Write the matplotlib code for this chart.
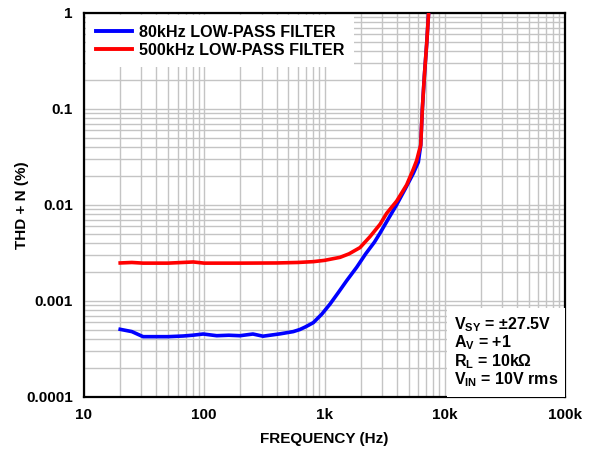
import matplotlib
matplotlib.use("Agg")
import matplotlib.pyplot as plt
from matplotlib.patches import Rectangle
from matplotlib.ticker import LogLocator, NullFormatter

plt.rcParams['font.family'] = ['Liberation Sans', 'DejaVu Sans']
plt.rcParams['font.weight'] = 'bold'
plt.rcParams['mathtext.fontset'] = 'custom'
plt.rcParams['mathtext.rm'] = 'Liberation Sans:bold'
plt.rcParams['mathtext.it'] = 'Liberation Sans:bold'
plt.rcParams['mathtext.bf'] = 'Liberation Sans:bold'

# Data
freq_80k = [20, 25, 31, 40, 50, 67, 80, 98, 127, 160, 198, 254, 308, 428, 550, 625, 700,
            807, 950, 1112, 1300, 1530, 1854, 2200, 2600, 2897, 3400, 3986, 4700, 5470,
            6030, 6310, 6505, 6760, 7080, 7350]
thd_80k = [0.000507, 0.00048, 0.000425, 0.000425, 0.000425, 0.000432, 0.00044, 0.000453,
           0.000435, 0.00044, 0.000435, 0.000453, 0.00043, 0.000455, 0.00048, 0.000505,
           0.00054, 0.000595, 0.00073, 0.00093, 0.00122, 0.00163, 0.00225, 0.0031, 0.0041,
           0.0051, 0.0072, 0.0101, 0.0148, 0.0213, 0.028, 0.0419, 0.0977, 0.217, 0.483, 1.03]

freq_500k = [20, 25, 31, 50, 81, 100, 200, 400, 600, 807, 1000, 1112, 1346, 1600, 1973,
             2390, 2897, 3290, 3986, 4820, 5470, 5835, 6100, 6310, 6505, 6760, 7080, 7350]
thd_500k = [0.00249, 0.00252, 0.00248, 0.00248, 0.00255, 0.00248, 0.00248, 0.00249,
            0.00252, 0.00257, 0.00265, 0.00272, 0.00285, 0.0031, 0.0036, 0.00468, 0.0063,
            0.0082, 0.011, 0.0162, 0.0235, 0.029, 0.036, 0.0419, 0.0977, 0.217, 0.483, 1.03]

x_ticks = [10, 100, 1000, 10000, 100000]
x_ticklabels = ['10', '100', '1k', '10k', '100k']
y_ticks = [0.0001, 0.001, 0.01, 0.1, 1]
y_ticklabels = ['0.0001', '0.001', '0.01', '0.1', '1']

fig = plt.figure(figsize=(5.95, 4.51), dpi=100)
ax = fig.add_axes([84/595, 1-397/451, 481/595, 384/451])
ax.set_xscale('log')
ax.set_yscale('log')
ax.set_xlim(10, 100000)
ax.set_ylim(0.0001, 1)

ax.plot(freq_80k, thd_80k, color='#0000ff', lw=2.6, label='80kHz LOW-PASS FILTER', zorder=3)
ax.plot(freq_500k, thd_500k, color='#ff0000', lw=2.6, label='500kHz LOW-PASS FILTER', zorder=4)

ax.set_xticks(x_ticks)
ax.set_xticklabels(x_ticklabels)
ax.set_yticks(y_ticks)
ax.set_yticklabels(y_ticklabels)
ax.xaxis.set_minor_locator(LogLocator(base=10, subs=range(2, 10)))
ax.yaxis.set_minor_locator(LogLocator(base=10, subs=range(2, 10)))
ax.xaxis.set_minor_formatter(NullFormatter())
ax.yaxis.set_minor_formatter(NullFormatter())
ax.tick_params(which='both', length=0, labelsize=11, pad=8)
for lab in ax.get_xticklabels() + ax.get_yticklabels():
    lab.set_fontweight('bold')
ax.grid(True, which='both', color='#c4c4c4', lw=1.0, zorder=0)
ax.set_axisbelow(True)
for s in ax.spines.values():
    s.set_linewidth(1.6)
    s.set_color('black')

ax.set_xlabel('FREQUENCY (Hz)', fontsize=11, fontweight='bold', labelpad=7)
ax.set_ylabel('THD + N (%)', fontsize=11, fontweight='bold')
ax.yaxis.set_label_coords(-0.115, 0.5)

leg = ax.legend(loc='upper left', frameon=True, fancybox=False, framealpha=1,
                edgecolor='white', handlelength=2.2, handletextpad=0.45,
                borderaxespad=0.15, borderpad=0.6, labelspacing=0.15,
                prop={'weight': 'bold', 'size': 11.6})
leg.get_frame().set_linewidth(0)
leg.set_zorder(5)
for line in leg.get_lines():
    line.set_linewidth(2.8)

ax.add_patch(Rectangle((0.755, 0.0), 0.245, 0.232, transform=ax.transAxes,
                       facecolor='white', edgecolor='none', zorder=5))
cond = ['V$_{SY}$ = ±27.5V', 'A$_{V}$ = +1', 'R$_{L}$ = 10kΩ', 'V$_{IN}$ = 10V rms']
ys = [0.176, 0.129, 0.081, 0.034]
for t, yy in zip(cond, ys):
    ax.text(0.769, yy, t, transform=ax.transAxes, fontsize=11.5, fontweight='bold',
            va='baseline', ha='left', zorder=6)

fig.savefig('out.png', dpi=100)
